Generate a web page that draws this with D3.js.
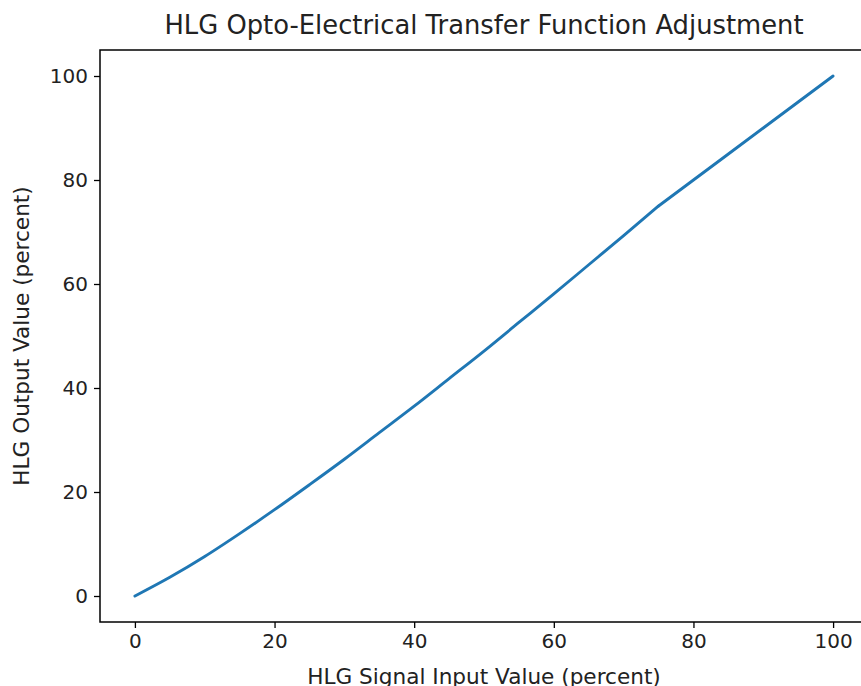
<!DOCTYPE html>
<html>
<head>
<meta charset="utf-8">
<script src="https://cdn.jsdelivr.net/npm/d3@7"></script>
<style>
  body { margin: 0; background: #fff; }
  svg { display: block; font-family: "DejaVu Sans", sans-serif; }
</style>
</head>
<body>
<div id="holder"></div>
<script>
const w = 861;
const h = 686;

// DATA
const inputValues = [0, 5, 10, 15, 20, 25, 30, 35, 40, 45, 50, 55, 60, 65, 70, 75, 80, 85, 90, 95, 100];
const outputValues = [0, 3.6, 7.6, 12.0, 16.6, 21.4, 26.3, 31.4, 36.5, 41.8, 47.1, 52.6, 58.1, 63.7, 69.3, 75, 80, 85, 90, 95, 100];
const kneeInput = 75;
const xTicks = [0, 20, 40, 60, 80, 100];
const yTicks = [0, 20, 40, 60, 80, 100];

const padLeft = 100, padTop = 50, padRight = 868, padBottom = 622;

// CREATE SVG
const svg = d3.select("#holder")
    .append("svg")
    .attr("width", w)
    .attr("height", h);

let xScale = d3.scaleLinear()
    .domain([-5, 105])
    .range([padLeft, padRight]);

let yScale = d3.scaleLinear()
    .domain([-5, 105])
    .range([padBottom, padTop]);

// X AXIS
let xAxis = d3.axisBottom(xScale)
    .tickValues(xTicks)
    .tickSize(6)
    .tickPadding(6)
    .tickSizeOuter(0);

let gx = svg.append("g")
    .attr("transform", "translate(0," + padBottom + ")")
    .call(xAxis);

// Y AXIS
let yAxis = d3.axisLeft(yScale)
    .tickValues(yTicks)
    .tickSize(6)
    .tickPadding(6)
    .tickSizeOuter(0);

let gy = svg.append("g")
    .attr("transform", "translate(" + padLeft + ",0)")
    .call(yAxis);

[gx, gy].forEach(g => {
    g.select(".domain").remove();
    g.selectAll(".tick line").attr("stroke", "#000").attr("stroke-width", 1.3);
    g.selectAll(".tick text")
        .attr("fill", "#222")
        .style("font-size", "20px")
        .style("font-family", "DejaVu Sans");
});

// FRAME
svg.append("rect")
    .attr("x", padLeft)
    .attr("y", padTop)
    .attr("width", padRight - padLeft)
    .attr("height", padBottom - padTop)
    .attr("fill", "none")
    .attr("stroke", "#000")
    .attr("stroke-width", 1.5);

// LINE: smooth up to the knee, straight after it
let points = inputValues.map((x, i) => [x, outputValues[i]]);
let lower = points.filter(p => p[0] <= kneeInput);
let upper = points.filter(p => p[0] >= kneeInput);

let smoothLine = d3.line()
    .x(d => xScale(d[0]))
    .y(d => yScale(d[1]))
    .curve(d3.curveMonotoneX);

let straightLine = d3.line()
    .x(d => xScale(d[0]))
    .y(d => yScale(d[1]));

[[lower, smoothLine], [upper, straightLine]].forEach(([pts, gen]) => {
    svg.append("path")
        .datum(pts)
        .attr("d", gen)
        .attr("fill", "none")
        .attr("stroke", "#1f77b4")
        .attr("stroke-width", 2.9)
        .attr("stroke-linejoin", "round")
        .attr("stroke-linecap", "round");
});

// TITLE + LABELS
svg.append("text")
    .attr("x", (padLeft + padRight) / 2)
    .attr("y", 34)
    .attr("text-anchor", "middle")
    .attr("fill", "#222")
    .style("font-size", "25.8px")
    .text("HLG Opto-Electrical Transfer Function Adjustment");

svg.append("text")
    .attr("x", (padLeft + padRight) / 2)
    .attr("y", 684)
    .attr("text-anchor", "middle")
    .attr("fill", "#222")
    .style("font-size", "21.6px")
    .text("HLG Signal Input Value (percent)");

svg.append("text")
    .attr("transform", "translate(29," + ((padTop + padBottom) / 2) + ") rotate(-90)")
    .attr("text-anchor", "middle")
    .attr("fill", "#222")
    .style("font-size", "21.6px")
    .text("HLG Output Value (percent)");
</script>
</body>
</html>
